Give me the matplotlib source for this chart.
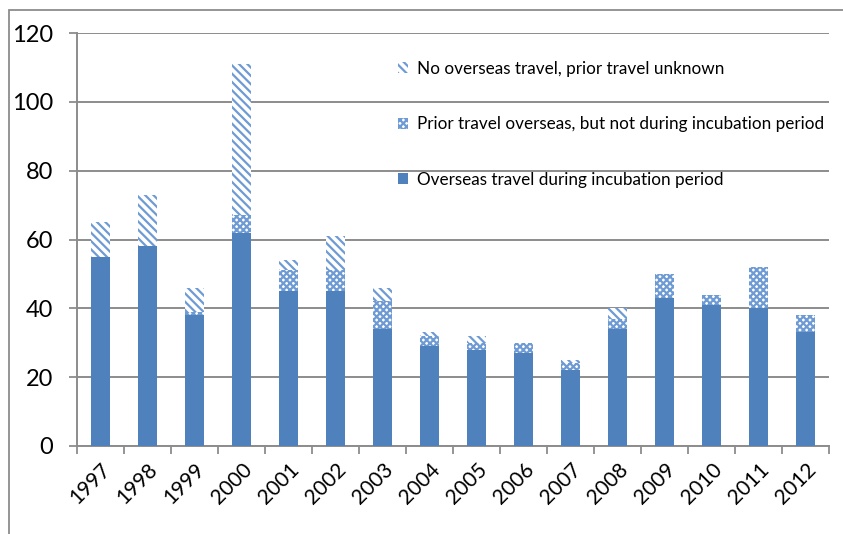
import matplotlib.pyplot as plt
from matplotlib.patches import Rectangle, Patch
import numpy as np

plt.rcParams['font.family'] = ['Lato', 'DejaVu Sans']
plt.rcParams['hatch.linewidth'] = 1.6

years = ["1997", "1998", "1999", "2000", "2001", "2002", "2003", "2004",
         "2005", "2006", "2007", "2008", "2009", "2010", "2011", "2012"]
overseas = [55, 58, 38, 62, 45, 45, 34, 29, 28, 27, 22, 34, 43, 41, 40, 33]
prior = [0, 0, 1, 5, 6, 6, 8, 3, 2, 3, 2, 3, 7, 3, 12, 5]
unknown = [10, 15, 7, 44, 3, 10, 4, 1, 2, 0, 1, 3, 0, 0, 0, 0]

blue = "#4F81BD"
hatch_blue = "#6f9bd4"
grey = "#8c8c8c"

fig = plt.figure(figsize=(8.43, 5.34), dpi=100)
ax = fig.add_axes([77 / 843, 1 - 446 / 534, (829 - 77) / 843, (446 - 33) / 534])

x = np.arange(len(years))
w = 0.42
bottom2 = np.array(overseas)
bottom3 = bottom2 + np.array(prior)

ax.bar(x, overseas, w, color=blue, linewidth=0, zorder=3)
ax.bar(x, prior, w, bottom=bottom2, facecolor="white", edgecolor=hatch_blue,
       hatch="xxxxx", linewidth=0, zorder=3)
ax.bar(x, unknown, w, bottom=bottom3, facecolor="white", edgecolor=hatch_blue,
       hatch="\\\\\\\\", linewidth=0, zorder=3)

ax.set_xlim(-0.5, len(years) - 0.5)
ax.set_ylim(0, 120)
ax.set_yticks(range(0, 121, 20))
ax.yaxis.grid(True, color=grey, linewidth=1.4, zorder=0)
ax.set_axisbelow(True)

ax.set_xticks(x)
ax.set_xticklabels(years, rotation=45, ha="right", rotation_mode="anchor")
ax.set_xticks(np.arange(-0.5, len(years), 1), minor=True)
ax.tick_params(axis="x", which="major", length=0, pad=10, labelsize=15)
ax.tick_params(axis="x", which="minor", length=6, width=1.3, color=grey)
ax.tick_params(axis="y", length=6, width=1.3, color=grey, labelsize=17, pad=11)

for s in ["top", "right"]:
    ax.spines[s].set_visible(False)
for s in ["left", "bottom"]:
    ax.spines[s].set_color(grey)
    ax.spines[s].set_linewidth(1.4)

handles = [
    Patch(facecolor="white", edgecolor=hatch_blue, hatch="\\\\\\\\", linewidth=0),
    Patch(facecolor="white", edgecolor=hatch_blue, hatch="xxxxx", linewidth=0),
    Patch(facecolor=blue, linewidth=0),
]
labels = ["No overseas travel, prior travel unknown",
          "Prior travel overseas, but not during incubation period",
          "Overseas travel during incubation period"]
fig.legend(handles, labels, loc="upper left",
           bbox_to_anchor=(391 / 843, 1 - 54 / 534), frameon=False,
           fontsize=12.3, handlelength=0.6, handleheight=0.6,
           handletextpad=0.5, labelspacing=2.31, borderaxespad=0)

border = Rectangle((9 / 843, -0.1), 1.1, 1.1 - 10 / 534,
                   transform=fig.transFigure, fill=False, edgecolor=grey,
                   linewidth=1.3, clip_on=False)
fig.patches.append(border)

fig.savefig("out.png", dpi=100)
